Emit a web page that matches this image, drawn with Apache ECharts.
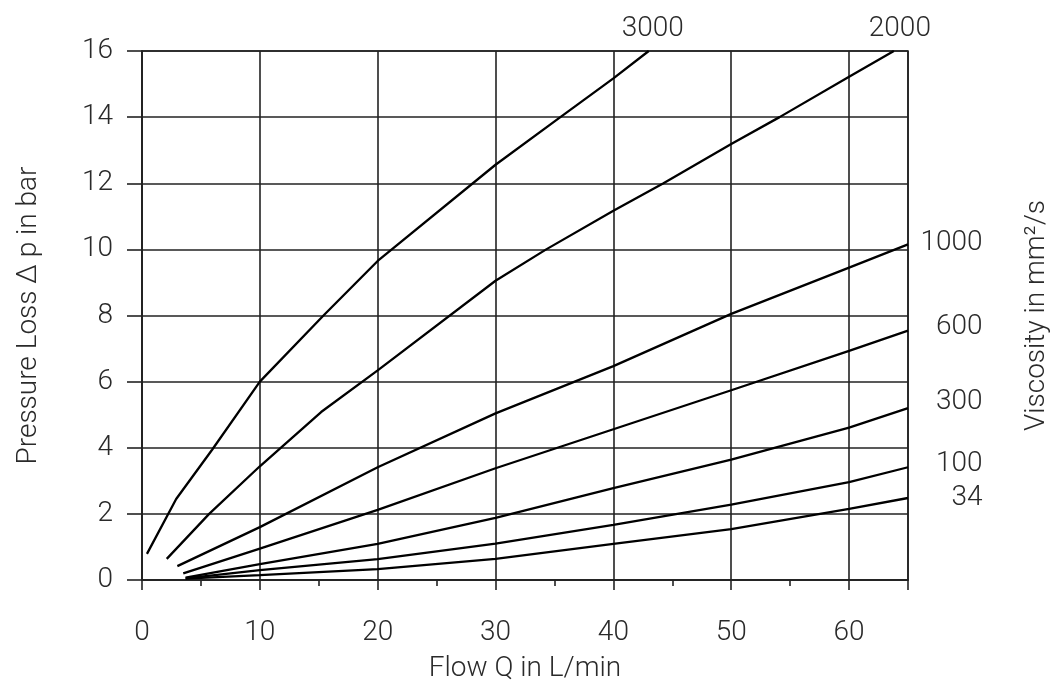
<!DOCTYPE html>
<html>
<head>
<meta charset="utf-8">
<script src="https://cdn.jsdelivr.net/npm/echarts@6/dist/echarts.min.js"></script>
<style>
  html, body { margin: 0; padding: 0; background: #ffffff; }
  #chart { width: 1060px; height: 691px; }
</style>
</head>
<body>
<div id="chart"></div>
<script>
// ---- Data (Flow Q in L/min, Pressure loss in bar) ----
const viscosityLabels = ['3000', '2000', '1000', '600', '300', '100', '34'];
const curve3000 = [[0.42,0.79],[2.9,2.45],[5.95,3.94],[10,6.0],[15.4,8.0],[20,9.65],[30,12.56],[35.5,14.0],[40,15.17],[43,16]];
const curve2000 = [[2.1,0.64],[5.7,2.0],[10,3.44],[15.2,5.08],[20,6.34],[30,9.05],[34.3,10],[40,11.17],[44.25,12],[50,13.19],[54.1,14],[60,15.22],[63.8,16]];
const curve1000 = [[3.0,0.42],[10,1.6],[20,3.41],[30,5.04],[40,6.47],[50,8.05],[60,9.45],[65,10.15]];
const curve600  = [[3.5,0.2],[10,0.95],[20,2.12],[30,3.38],[40,4.56],[50,5.74],[60,6.93],[65,7.54]];
const curve300  = [[3.7,0.07],[10,0.48],[20,1.09],[30,1.88],[40,2.78],[50,3.64],[60,4.61],[65,5.2]];
const curve100  = [[3.7,0.05],[10,0.3],[20,0.63],[30,1.1],[40,1.67],[50,2.28],[60,2.96],[65,3.41]];
const curve34   = [[3.7,0.04],[10,0.15],[20,0.33],[30,0.64],[40,1.09],[50,1.54],[60,2.15],[65,2.48]];
const curves = [curve3000, curve2000, curve1000, curve600, curve300, curve100, curve34];

const xTitle = 'Flow Q in L/min';
const yTitle = 'Pressure Loss \u0394 p in bar';
const y2Title = 'Viscosity in mm\u00B2/s';

// ---- Styling ----
const FONT = 'Roboto, "Liberation Sans", sans-serif';
const FS = 28;
const TEXT = '#2a2a2a';
const GRIDC = '#222222';
// label placement relative to each curve's last point (pixels)
const labelPos = [
  {position: 'top', offset: [4, 0], distance: 8},
  {position: 'top', offset: [6, 0], distance: 8},
  {pos: [75, -1]},
  {pos: [75, -3]},
  {pos: [75, -6]},
  {pos: [75, -3]},
  {pos: [75, 0]}
];

const chart = echarts.init(document.getElementById('chart'), null, {renderer: 'canvas'});

const series = curves.map((c, i) => {
  const lp = labelPos[i];
  const label = lp.pos ? {
    show: true, position: lp.pos, align: 'right', verticalAlign: 'middle',
    formatter: viscosityLabels[i], fontFamily: FONT, fontWeight: 300, fontSize: FS, color: TEXT
  } : {
    show: true, position: lp.position, distance: lp.distance, offset: lp.offset,
    formatter: viscosityLabels[i], fontFamily: FONT, fontWeight: 300, fontSize: FS, color: TEXT
  };
  return {
    name: viscosityLabels[i],
    type: 'line',
    data: c,
    showSymbol: false,
    symbol: 'none',
    smooth: false,
    lineStyle: {color: '#000', width: 2.3},
    z: 5,
    silent: true,
    animation: false,
    markPoint: {
      symbol: 'circle', symbolSize: 1,
      itemStyle: {color: 'rgba(0,0,0,0)'},
      label: label,
      data: [{coord: c[c.length - 1]}],
      animation: false
    }
  };
});

chart.setOption({
  animation: false,
  grid: {left: 142, right: 152, top: 51, bottom: 111, show: true, borderColor: GRIDC, borderWidth: 1.6, backgroundColor: 'transparent'},
  xAxis: {
    type: 'value', min: 0, max: 65, interval: 10,
    name: xTitle, nameLocation: 'middle', nameGap: 75,
    nameTextStyle: {fontFamily: FONT, fontWeight: 300, fontSize: FS, color: TEXT},
    axisLine: {show: true, onZero: false, lineStyle: {color: GRIDC, width: 1.6}},
    axisTick: {show: true, length: 10, lineStyle: {color: GRIDC, width: 1.6}},
    minorTick: {show: true, splitNumber: 2, length: 6, lineStyle: {color: GRIDC, width: 1.6}},
    axisLabel: {margin: 39, fontFamily: FONT, fontWeight: 300, fontSize: FS, color: TEXT,
      showMaxLabel: false, formatter: v => (v % 10 === 0 && v <= 60) ? String(v) : ''},
    splitLine: {show: true, lineStyle: {color: GRIDC, width: 1.6}}
  },
  yAxis: [{
    type: 'value', min: 0, max: 16, interval: 2,
    name: yTitle, nameLocation: 'middle', nameGap: 99, nameRotate: 90,
    nameTextStyle: {fontFamily: FONT, fontWeight: 300, fontSize: FS, color: TEXT},
    axisLine: {show: true, onZero: false, lineStyle: {color: GRIDC, width: 1.6}},
    axisTick: {show: true, length: 15, lineStyle: {color: GRIDC, width: 1.6}},
    axisLabel: {margin: 29, fontFamily: FONT, fontWeight: 300, fontSize: FS, color: TEXT},
    splitLine: {show: true, lineStyle: {color: GRIDC, width: 1.6}}
  }, {
    type: 'value', min: 0, max: 16, interval: 2, position: 'right',
    name: y2Title, nameLocation: 'middle', nameGap: 115, nameRotate: 90,
    nameTextStyle: {fontFamily: FONT, fontWeight: 300, fontSize: FS, color: TEXT},
    axisLine: {show: false}, axisTick: {show: false}, axisLabel: {show: false}, splitLine: {show: false}
  }],
  series: series
});
</script>
</body>
</html>
